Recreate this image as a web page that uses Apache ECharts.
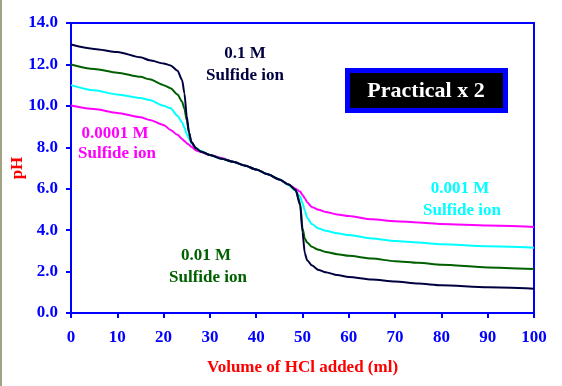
<!DOCTYPE html>
<html>
<head>
<meta charset="utf-8">
<script src="https://cdn.jsdelivr.net/npm/echarts@6/dist/echarts.min.js"></script>
<style>
html,body{margin:0;padding:0;background:#ffffff;}
#chart{width:562px;height:386px;}
</style>
</head>
<body>
<div id="chart"></div>
<script>
// Volume of HCl added (ml)
const volume = [0,5,10,15,17,20,21.5,23,24,24.5,25,25.5,26,27,28,30,32.5,35,37.5,40,42.5,45,47,48.5,49.5,50,50.5,51,52,53.5,55,57.5,60,65,70,75,80,90,100];
// pH values for each sulfide concentration
const pH_01M = [12.96,12.75,12.6,12.35,12.2,12.05,11.95,11.7,11.25,10.6,9.5,8.7,8.25,7.95,7.8,7.63,7.45,7.3,7.12,6.93,6.7,6.45,6.2,5.95,5.2,3.9,2.88,2.55,2.3,2.08,1.97,1.83,1.74,1.62,1.52,1.42,1.34,1.24,1.17];
const pH_001M = [12.0,11.78,11.6,11.4,11.28,11.0,10.85,10.55,10.2,9.85,9.3,8.7,8.25,7.95,7.8,7.63,7.45,7.3,7.12,6.93,6.7,6.45,6.2,5.93,5.3,4.1,3.6,3.4,3.2,3.05,2.95,2.84,2.76,2.63,2.5,2.42,2.33,2.2,2.12];
const pH_0001M = [11.0,10.75,10.55,10.38,10.28,10.0,9.88,9.52,9.2,8.95,8.65,8.4,8.2,7.97,7.82,7.63,7.45,7.3,7.12,6.93,6.7,6.45,6.18,5.9,5.62,5.3,4.95,4.6,4.3,4.08,3.97,3.85,3.76,3.6,3.48,3.4,3.32,3.22,3.15];
const pH_00001M = [10.02,9.85,9.66,9.45,9.32,9.08,8.84,8.6,8.4,8.3,8.2,8.12,8.02,7.85,7.77,7.63,7.48,7.3,7.12,6.93,6.7,6.43,6.2,6.0,5.86,5.7,5.54,5.35,5.12,4.98,4.88,4.76,4.68,4.52,4.43,4.37,4.3,4.22,4.15];

const xTicks = [0,10,20,30,40,50,60,70,80,90,100];
const yTicks = [0,2,4,6,8,10,12,14];

const seriesNames = ['0.1 M','0.01 M','0.001 M','0.0001 M'];
const seriesValues = [pH_01M, pH_001M, pH_0001M, pH_00001M];
const seriesColors = ['#000040','#006000','#00ffff','#ff00ff'];

const FONT = '"Liberation Serif", "Times New Roman", serif';
const BLUE = '#0000ff';

const chart = echarts.init(document.getElementById('chart'), null, {renderer:'canvas'});

const series = seriesValues.map((vals, i) => ({
  name: seriesNames[i],
  type: 'line',
  data: volume.map((v, j) => [v, vals[j]]),
  showSymbol: false,
  smooth: 0.25,
  smoothMonotone: 'x',
  lineStyle: {color: seriesColors[i], width: 2},
  itemStyle: {color: seriesColors[i]},
  z: 10 - i
}));

const option = {
  animation: false,
  backgroundColor: '#ffffff',
  grid: {left: 71, right: 28, top: 23, bottom: 73, show: true, borderColor: BLUE, borderWidth: 2,
    containLabel: false, outerBoundsMode: 'none'},
  xAxis: {
    type: 'value', min: 0, max: 100, interval: 10,
    name: 'Volume of HCl added (ml)', nameLocation: 'middle', nameGap: 46,
    nameTextStyle: {color: '#ff0000', fontFamily: FONT, fontWeight: 'bold', fontSize: 17},
    axisLine: {show: true, lineStyle: {color: BLUE, width: 2}},
    axisTick: {show: true, length: 5, lineStyle: {color: BLUE, width: 2}},
    axisLabel: {color: BLUE, fontFamily: FONT, fontWeight: 'bold', fontSize: 17, margin: 16,
      formatter: v => xTicks.includes(v) ? String(v) : ''},
    splitLine: {show: false}
  },
  yAxis: {
    type: 'value', min: 0, max: 14, interval: 2,
    name: 'pH', nameLocation: 'middle', nameGap: 45, nameRotate: 90, nameMoveOverlap: false,
    nameTextStyle: {color: '#ff0000', fontFamily: FONT, fontWeight: 'bold', fontSize: 17},
    axisLine: {show: true, lineStyle: {color: BLUE, width: 2}},
    axisTick: {show: true, length: 5, lineStyle: {color: BLUE, width: 2}},
    axisLabel: {color: BLUE, fontFamily: FONT, fontWeight: 'bold', fontSize: 17, margin: 13,
      formatter: v => yTicks.includes(v) ? v.toFixed(1) : ''},
    splitLine: {show: false}
  },
  series: series,
  graphic: [
    {type: 'rect', shape: {x: 0, y: 0, width: 2, height: 386}, style: {fill: '#a3a386'}},
    {type: 'rect', shape: {x: 347.5, y: 70.5, width: 158, height: 40}, style: {fill: '#000000', stroke: BLUE, lineWidth: 5}, z: 20},
    {type: 'text', x: 426, y: 91, z: 21, style: {text: 'Practical x 2', fill: '#ffffff', font: 'bold 22px ' + FONT, textAlign: 'center', textVerticalAlign: 'middle'}},
    {type: 'text', x: 245, y: 54, z: 21, style: {text: '0.1 M', fill: '#000040', font: 'bold 17px ' + FONT, textAlign: 'center', textVerticalAlign: 'middle'}},
    {type: 'text', x: 245, y: 76, z: 21, style: {text: 'Sulfide ion', fill: '#000040', font: 'bold 17px ' + FONT, textAlign: 'center', textVerticalAlign: 'middle'}},
    {type: 'text', x: 115, y: 134, z: 21, style: {text: '0.0001 M', fill: '#ff00ff', font: 'bold 17px ' + FONT, textAlign: 'center', textVerticalAlign: 'middle'}},
    {type: 'text', x: 117, y: 154, z: 21, style: {text: 'Sulfide ion', fill: '#ff00ff', font: 'bold 17px ' + FONT, textAlign: 'center', textVerticalAlign: 'middle'}},
    {type: 'text', x: 460, y: 189, z: 21, style: {text: '0.001 M', fill: '#00ffff', font: 'bold 17px ' + FONT, textAlign: 'center', textVerticalAlign: 'middle'}},
    {type: 'text', x: 462, y: 211, z: 21, style: {text: 'Sulfide ion', fill: '#00ffff', font: 'bold 17px ' + FONT, textAlign: 'center', textVerticalAlign: 'middle'}},
    {type: 'text', x: 206, y: 256, z: 21, style: {text: '0.01 M', fill: '#006000', font: 'bold 17px ' + FONT, textAlign: 'center', textVerticalAlign: 'middle'}},
    {type: 'text', x: 208, y: 278, z: 21, style: {text: 'Sulfide ion', fill: '#006000', font: 'bold 17px ' + FONT, textAlign: 'center', textVerticalAlign: 'middle'}}
  ]
};
chart.setOption(option);
</script>
</body>
</html>
